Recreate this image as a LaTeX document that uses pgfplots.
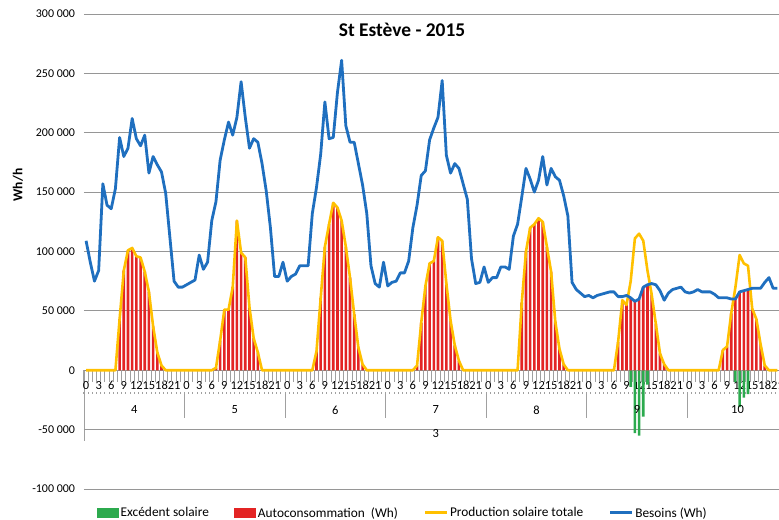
\documentclass[border=0pt]{standalone}
\usepackage{pgfplots}
\usepackage{pgfplotstable}
\pgfplotsset{compat=1.18}
\usepackage{fontspec}
\setmainfont{Carlito}
\definecolor{blueS}{RGB}{31,111,191}
\definecolor{yellowS}{RGB}{255,192,0}
\definecolor{redS}{RGB}{227,36,36}
\definecolor{greenS}{RGB}{44,170,78}
\definecolor{gridS}{RGB}{150,150,150}
\definecolor{tickS}{RGB}{160,160,160}

\pgfplotstableread{
i bes prod auto exc
0 109000 0 0 0
1 91000 0 0 0
2 75000 0 0 0
3 84000 0 0 0
4 157000 0 0 0
5 139000 0 0 0
6 136000 0 0 0
7 153000 0 0 0
8 196000 43000 43000 0
9 180000 84000 84000 0
10 187000 101000 101000 0
11 212000 103000 103000 0
12 195000 96000 96000 0
13 189000 95000 95000 0
14 198000 83000 83000 0
15 166000 66000 66000 0
16 180000 37000 37000 0
17 173000 15000 15000 0
18 167000 4000 4000 0
19 149000 0 0 0
20 112000 0 0 0
21 75000 0 0 0
22 70000 0 0 0
23 70000 0 0 0
24 72000 0 0 0
25 74000 0 0 0
26 76000 0 0 0
27 97000 0 0 0
28 85000 0 0 0
29 91000 0 0 0
30 126000 0 0 0
31 142000 2000 2000 0
32 177000 25000 25000 0
33 194000 51000 51000 0
34 209000 51000 51000 0
35 198000 70000 70000 0
36 213000 126000 126000 0
37 243000 99000 99000 0
38 213000 95000 95000 0
39 187000 53000 53000 0
40 195000 27000 27000 0
41 192000 15000 15000 0
42 174000 0 0 0
43 151000 0 0 0
44 120000 0 0 0
45 79000 0 0 0
46 79000 0 0 0
47 91000 0 0 0
48 75000 0 0 0
49 79000 0 0 0
50 81000 0 0 0
51 88000 0 0 0
52 88000 0 0 0
53 88000 0 0 0
54 132000 0 0 0
55 154000 16000 16000 0
56 182000 61000 61000 0
57 226000 104000 104000 0
58 195000 123000 123000 0
59 196000 141000 141000 0
60 234000 137000 137000 0
61 261000 126000 126000 0
62 206000 104000 104000 0
63 192000 78000 78000 0
64 192000 47000 47000 0
65 174000 19000 19000 0
66 156000 5000 5000 0
67 132000 0 0 0
68 88000 0 0 0
69 73000 0 0 0
70 70000 0 0 0
71 91000 0 0 0
72 71000 0 0 0
73 74000 0 0 0
74 75000 0 0 0
75 82000 0 0 0
76 82000 0 0 0
77 92000 0 0 0
78 120000 0 0 0
79 139000 4000 4000 0
80 164000 40000 40000 0
81 168000 71000 71000 0
82 194000 90000 90000 0
83 204000 92000 92000 0
84 213000 112000 112000 0
85 244000 109000 109000 0
86 181000 73000 73000 0
87 166000 42000 42000 0
88 174000 21000 21000 0
89 170000 8000 8000 0
90 157000 0 0 0
91 144000 0 0 0
92 94000 0 0 0
93 73000 0 0 0
94 74000 0 0 0
95 87000 0 0 0
96 74000 0 0 0
97 78000 0 0 0
98 78000 0 0 0
99 87000 0 0 0
100 87000 0 0 0
101 85000 0 0 0
102 113000 0 0 0
103 123000 0 0 0
104 146000 57000 57000 0
105 170000 100000 100000 0
106 161000 120000 120000 0
107 150000 123000 123000 0
108 160000 128000 128000 0
109 180000 125000 125000 0
110 156000 104000 104000 0
111 170000 83000 83000 0
112 163000 41000 41000 0
113 160000 18000 18000 0
114 147000 5000 5000 0
115 130000 0 0 0
116 74000 0 0 0
117 68000 0 0 0
118 65000 0 0 0
119 62000 0 0 0
120 63000 0 0 0
121 61000 0 0 0
122 63000 0 0 0
123 64000 0 0 0
124 65000 0 0 0
125 66000 0 0 0
126 66000 0 0 0
127 62000 24000 24000 0
128 62000 59000 59000 0
129 63000 55000 55000 0
130 61000 75000 61000 -14000
131 58000 111000 58000 -53000
132 60000 115000 60000 -55000
133 70000 109000 70000 -39000
134 72000 84000 72000 -12000
135 73000 64000 64000 0
136 72000 39000 39000 0
137 67000 14000 14000 0
138 59000 5000 5000 0
139 65000 0 0 0
140 68000 0 0 0
141 69000 0 0 0
142 70000 0 0 0
143 66000 0 0 0
144 65000 0 0 0
145 66000 0 0 0
146 68000 0 0 0
147 66000 0 0 0
148 66000 0 0 0
149 66000 0 0 0
150 64000 0 0 0
151 61000 0 0 0
152 61000 17000 17000 0
153 61000 20000 20000 0
154 60000 48000 48000 0
155 60000 70000 60000 -10000
156 66000 97000 66000 -31000
157 67000 90000 67000 -23000
158 68000 88000 68000 -20000
159 69000 52000 52000 0
160 69000 43000 43000 0
161 69000 22000 22000 0
162 74000 4000 4000 0
163 78000 0 0 0
164 69000 0 0 0
165 69000 0 0 0
}\data

\pgfplotsset{chartgeom/.style={
  at={(0,0)}, anchor=south west,
  scale only axis, width=695bp, height=475bp,
  xmin=-0.5, xmax=165.4, ymin=-100000, ymax=300000,
  clip=false}}

\begin{document}
\begin{tikzpicture}
\useasboundingbox (-84bp,-31bp) rectangle (695bp,489bp);
% category separators of the x axis (drawn first, under the labels)
\begin{axis}[chartgeom, hide axis]
\pgfplotsinvokeforeach{23.5,47.5,...,143.5}{
  \draw[tickS, line width=1bp] ([yshift=-23.7bp]axis cs:#1,0) -- ++(0pt,-24bp);
}
\draw[tickS, line width=1bp] (axis cs:-0.5,0) -- ++(0pt,-70.7bp);
\end{axis}
\begin{axis}[
  chartgeom,
  axis x line*=middle, axis y line*=left,
  axis line style={draw=none},
  xtick style={draw=none}, ytick style={draw=none},
  ytick={-100000,-50000,0,50000,100000,150000,200000,250000,300000},
  yticklabels={-100 000,-50 000,0,50 000,100 000,150 000,200 000,250 000,300 000},
  ymajorgrids, major grid style={gridS, line width=1bp},
  xtick={0,3,...,165},
  xticklabel={\pgfmathtruncatemacro\hh{mod(round(\tick),24)}\hh},
  xticklabel style={anchor=center, yshift=-15bp, fill=none, font=\fontsize{12.5}{14}\selectfont},
  yticklabel style={anchor=east, xshift=-5.5bp, fill=none, font=\fontsize{12}{14}\selectfont},
  title={St Estève - 2015},
  title style={at={(axis description cs:0.4576,0.9663)}, anchor=center, yshift=-6pt, font=\bfseries\fontsize{19.5}{22}\selectfont},
  legend columns=4,
  legend cell align=left,
  legend style={at={(axis description cs:0.0187,-0.0505)}, anchor=west, draw=none, fill=none, inner sep=0pt,
    font=\fontsize{13.4}{15}\selectfont, nodes={inner xsep=1.5bp},
    /tikz/every even column/.append style={column sep=24bp}},
]
% hour separators of the x axis, broken where the hour labels sit
\pgfplotsinvokeforeach{-0.5,0.5,...,164.5}{
  \draw[tickS, line width=1bp] (axis cs:#1,0) -- ++(0pt,-11.5bp);
  \draw[tickS, line width=1bp] ([yshift=-21.8bp]axis cs:#1,0) -- ++(0pt,-1.9bp);
}
\addplot[ybar, bar shift=0pt, bar width=0.62, fill=greenS, draw=none,
  legend image code/.code={\fill[greenS] (0bp,-5bp) rectangle (22bp,5bp);}]
  table[x=i,y=exc]{\data};
\addlegendentry{Excédent solaire}
\addplot[ybar, bar shift=0pt, bar width=0.62, fill=redS, draw=none,
  legend image code/.code={\fill[redS] (0bp,-5bp) rectangle (22bp,5bp);}]
  table[x=i,y=auto]{\data};
\addlegendentry{Autoconsommation\ \ (Wh)}
\addplot[yellowS, line width=2.6bp, line join=round, mark=none,
  legend image code/.code={\draw[yellowS, line width=3bp] (0bp,0bp) -- (22bp,0bp);}]
  table[x=i,y=prod]{\data};
\addlegendentry{Production solaire totale}
\addplot[blueS, line width=2.8bp, line join=round, mark=none,
  legend image code/.code={\draw[blueS, line width=3bp] (0bp,0bp) -- (22bp,0bp);}]
  table[x=i,y=bes]{\data};
\addlegendentry{Besoins (Wh)}

\begin{scope}[every node/.style={font=\fontsize{12.5}{14}\selectfont}]
\node at ([yshift=-39.7bp]axis cs:11.5,0) {4};
\node at ([yshift=-39.7bp]axis cs:35.5,0) {5};
\node at ([yshift=-39.7bp]axis cs:59.5,0) {6};
\node at ([yshift=-39.7bp]axis cs:83.5,0) {7};
\node at ([yshift=-39.7bp]axis cs:107.5,0) {8};
\node at ([yshift=-39.7bp]axis cs:131.5,0) {9};
\node at ([yshift=-39.7bp]axis cs:155.5,0) {10};
\node at ([yshift=-63.2bp]axis cs:83.5,0) {3};
\end{scope}
\node[rotate=90, font=\bfseries\fontsize{13.6}{15}\selectfont] at (axis description cs:-0.095,0.64) {Wh/h};
\end{axis}
\end{tikzpicture}
\end{document}
